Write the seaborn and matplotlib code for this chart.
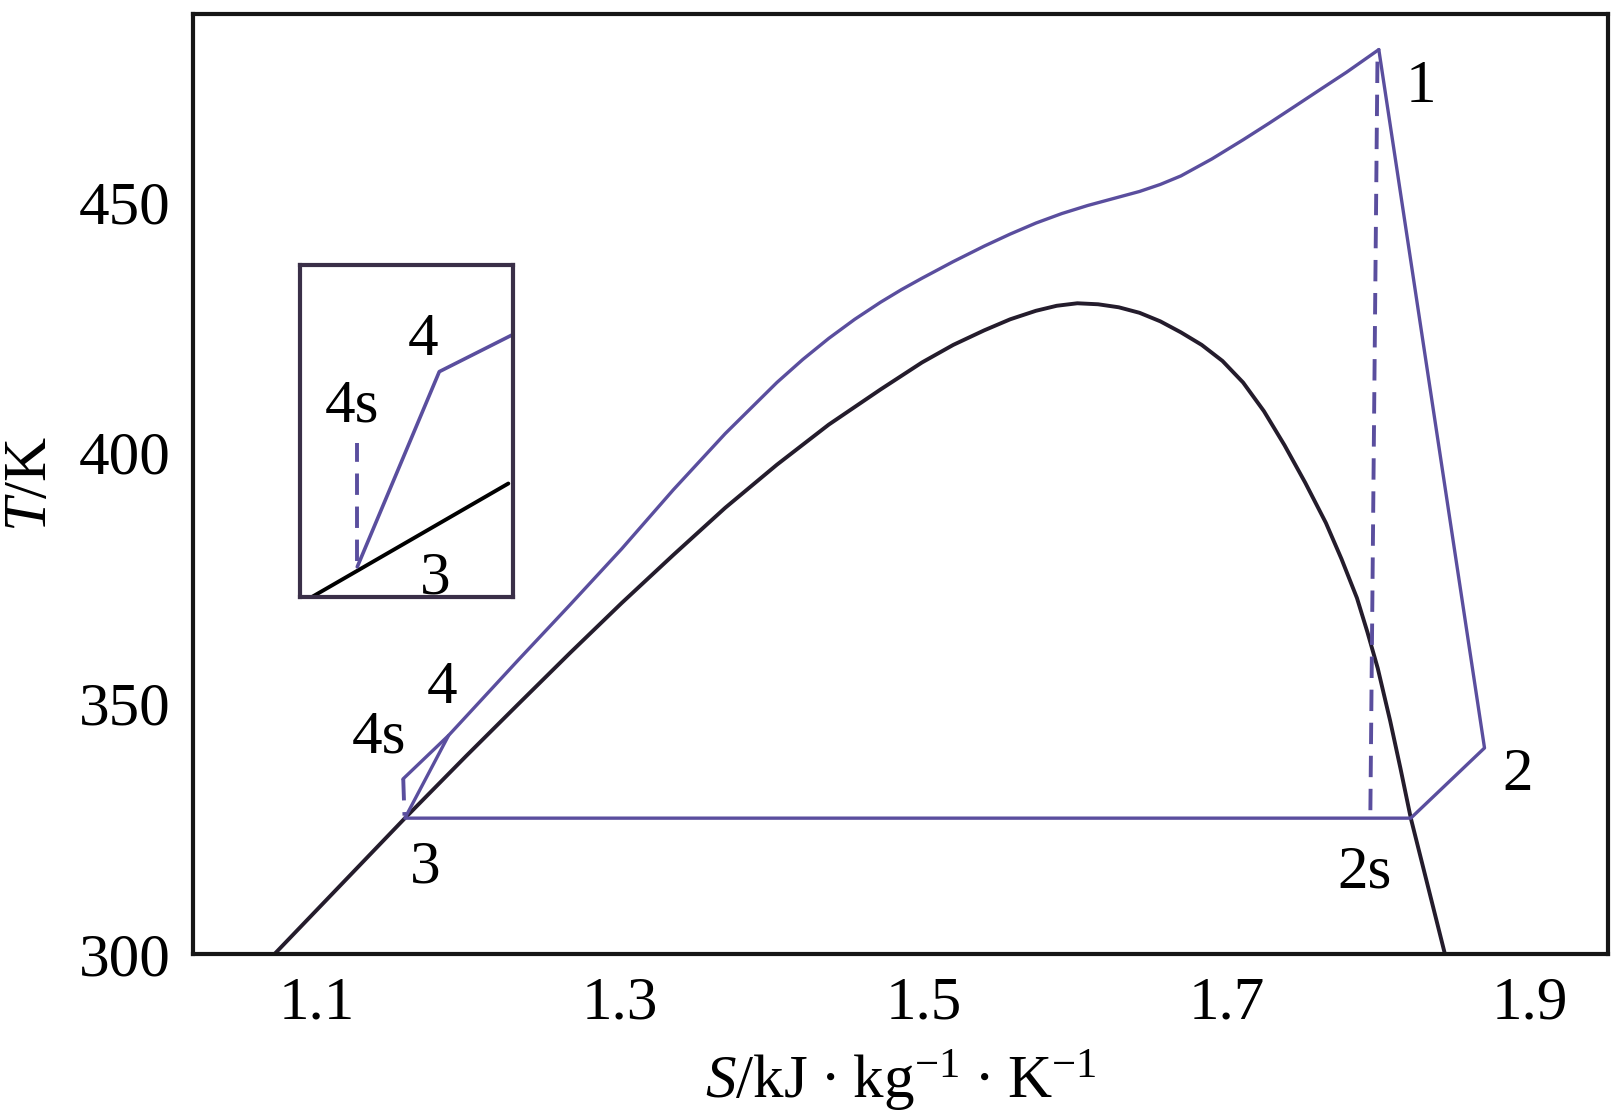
import matplotlib
matplotlib.use("Agg")
import matplotlib.pyplot as plt
import seaborn as sns
import pandas as pd

# ---------------- data ----------------
# saturation dome
dome_S = [1.0721, 1.1581, 1.1985, 1.2327, 1.2668, 1.301, 1.3351, 1.3693, 1.4034, 1.4376,
          1.4717, 1.4991, 1.5197, 1.5401, 1.5572, 1.5742, 1.5879, 1.6015, 1.6152, 1.6288,
          1.6425, 1.6562, 1.6698, 1.6835, 1.6972, 1.7108, 1.7245, 1.7381, 1.7518, 1.7654,
          1.7757, 1.7859, 1.7928, 1.7996, 1.8078, 1.8146, 1.8214, 1.8439]
dome_T = [300.0, 327.1, 339.5, 349.8, 360.0, 370.0, 379.6, 389.0, 397.6, 405.6,
          412.6, 418.0, 421.5, 424.4, 426.6, 428.3, 429.3, 429.8, 429.6, 429.0,
          427.9, 426.2, 424.0, 421.5, 418.3, 414.0, 408.3, 401.5, 394.0, 386.0,
          378.8, 371.0, 364.2, 357.0, 346.5, 337.0, 327.1, 300.0]

# heating curve 4s -> 4 -> 1
heat_S = [1.1568, 1.1869, 1.2327, 1.2668, 1.301, 1.3351, 1.3693, 1.4034, 1.4205, 1.4376,
          1.4547, 1.4717, 1.4854, 1.4991, 1.5196, 1.5401, 1.5572, 1.5742, 1.5913, 1.6083,
          1.6254, 1.6425, 1.6562, 1.6698, 1.6903, 1.7108, 1.7279, 1.745, 1.762, 1.7791, 1.8003]
heat_T = [334.9, 343.6, 358.6, 369.6, 380.8, 392.6, 403.8, 414.0, 418.6, 422.8,
          426.6, 430.0, 432.5, 434.8, 438.1, 441.2, 443.6, 445.8, 447.7, 449.3,
          450.7, 452.1, 453.5, 455.2, 458.6, 462.4, 465.7, 469.1, 472.5, 475.9, 480.4]

# cycle: 1 -> 2 -> 2' -> 3 -> 4
cycle_S = [1.8003, 1.8700, 1.8214, 1.1581, 1.1869]
cycle_T = [480.4, 341.1, 327.1, 327.1, 343.6]

# isentropic (dashed) lines
dash1_S = [1.7994, 1.7947]   # 1 -> 2s
dash1_T = [478.0, 327.1]
dash2_S = [1.1570, 1.1578]   # 4s -> 3
dash2_T = [334.9, 327.6]

point_labels = ["1", "2", "2s", "3", "4", "4s"]
label_S = [1.828, 1.892, 1.791, 1.1714, 1.1826, 1.141]
label_T = [472.8, 335.7, 316.2, 317.2, 353.1, 343.1]

# inset (magnified region around point 3)
in_black_S = [1.1503, 1.16956]
in_black_T = [323.85, 327.42]
in_pump_S = [1.15538, 1.16308, 1.16988]
in_pump_T = [324.91, 330.79, 331.89]
in_dash_S = [1.15538, 1.15538]
in_dash_T = [325.1, 328.63]
in_labels = ["4", "4s", "3"]
in_label_S = [1.16158, 1.15485, 1.16268]
in_label_T = [331.74, 329.73, 324.56]

x_ticks = [1.1, 1.3, 1.5, 1.7, 1.9]
y_ticks = [300, 350, 400, 450]

# ---------------- style ----------------
sns.set_theme(style="white")
plt.rcParams["font.family"] = ["Liberation Serif", "DejaVu Serif"]
plt.rcParams["mathtext.fontset"] = "custom"
plt.rcParams["mathtext.rm"] = "Liberation Serif"
plt.rcParams["mathtext.it"] = "Liberation Serif:italic"

PURPLE = "#5A4E9E"
DARK = "#241C2C"
FS = 44

fig = plt.figure(figsize=(16.24, 11.11), dpi=100)
ax = fig.add_axes([0.1187, 0.1413, 0.8716, 0.8461])

def line(a, S, T, color, lw, dashed=False):
    df = pd.DataFrame({"S": S, "T": T})
    l = sns.lineplot(data=df, x="S", y="T", sort=False, estimator=None,
                     color=color, lw=lw, ax=a)
    ln = l.lines[-1]
    ln.set_solid_joinstyle("round")
    if dashed:
        ln.set_dashes((5.5, 3.0))
    return l

line(ax, dome_S, dome_T, DARK, 2.8)
line(ax, heat_S, heat_T, PURPLE, 2.4)
line(ax, cycle_S, cycle_T, PURPLE, 2.4)
line(ax, dash1_S, dash1_T, PURPLE, 2.8, dashed=True)
line(ax, dash2_S, dash2_T, PURPLE, 2.8, dashed=True)

for t, s, T in zip(point_labels, label_S, label_T):
    ax.text(s, T, t, fontsize=FS, ha="center", va="center", color="black")

ax.set_xlim(1.0182, 1.9516)
ax.set_ylim(300, 487.5)
ax.set_xticks(x_ticks)
ax.set_xticklabels([f"{v:.1f}" for v in x_ticks])
ax.set_yticks(y_ticks)
ax.set_yticklabels([str(v) for v in y_ticks])
ax.tick_params(axis="x", direction="in", length=18, width=2.8, labelsize=FS, pad=16, colors="black")
ax.tick_params(axis="y", direction="in", length=7, width=2.8, labelsize=FS, pad=16, colors="black")
for sp in ax.spines.values():
    sp.set_linewidth(3.0)
    sp.set_color("#161616")

ax.set_xlabel(r"$\mathit{S}$/kJ ∙ kg$^{-1}$ ∙ K$^{-1}$", fontsize=FS, labelpad=12, color="black")
ax.set_ylabel(r"$\mathit{T}$/K", fontsize=FS, labelpad=14, color="black")

# ---------------- inset ----------------
ins = fig.add_axes([0.1847, 0.4626, 0.1312, 0.2988])
line(ins, in_black_S, in_black_T, "black", 2.8)
line(ins, in_pump_S, in_pump_T, PURPLE, 2.6)
line(ins, in_dash_S, in_dash_T, PURPLE, 2.8, dashed=True)
for t, s, T in zip(in_labels, in_label_S, in_label_T):
    ins.text(s, T, t, fontsize=FS, ha="center", va="center", color="black")
ins.set_xlim(1.150, 1.170)
ins.set_ylim(324, 334)
ins.set_xticks([])
ins.set_yticks([])
ins.set_xlabel("")
ins.set_ylabel("")
for sp in ins.spines.values():
    sp.set_linewidth(3.0)
    sp.set_color("#3A2F48")

fig.savefig("out.png", dpi=100)
